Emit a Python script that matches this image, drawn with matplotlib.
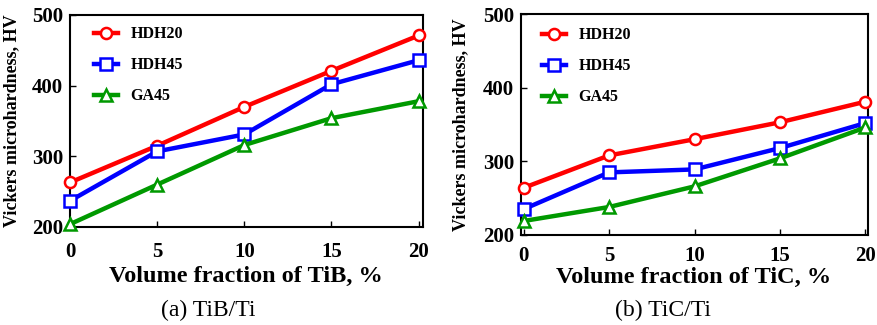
import matplotlib
matplotlib.use('Agg')
import matplotlib.pyplot as plt

plt.rcParams['font.family'] = ['Liberation Serif', 'DejaVu Serif']

vol = [0, 5, 10, 15, 20]
labels = ['HDH20', 'HDH45', 'GA45']

# TiB/Ti
tib_hdh20 = [263, 315, 370, 421, 471]
tib_hdh45 = [237, 307, 331, 402, 436]
tib_ga45 = [204, 260, 316, 354, 378]

# TiC/Ti
tic_hdh20 = [264, 308, 330, 353, 381]
tic_hdh45 = [235, 285, 289, 318, 352]
tic_ga45 = [219, 238, 266, 304, 346]

colors = ['#ff0000', '#0000ff', '#009900']
markers = ['o', 's', '^']

fig = plt.figure(figsize=(8.77, 3.25), dpi=100)
W, H = 877, 325


def fx(px):
    return px / W


def fy(py):
    return 1 - py / H


def panel(rect, series, xname, xlim, ylab_x, xlab_xy, xpad, leg_xy):
    l, t, r, b = rect
    ax = fig.add_axes([fx(l), fy(b), (r - l) / W, (b - t) / H])
    for ys, c, m, lab in zip(series, colors, markers, labels):
        ax.plot(vol, ys, color=c, lw=3.2, marker=m, ms=8, mfc='white',
                mec=c, mew=1.8, clip_on=False, label=lab, zorder=3)
    ax.set_xlim(*xlim)
    ax.set_ylim(200, 500)
    ax.set_xticks(vol)
    ax.set_yticks([200, 300, 400, 500])
    ax.tick_params(direction='in', length=4, width=1, labelsize=15)
    ax.tick_params(axis='x', pad=xpad)
    ax.tick_params(axis='y', pad=5)
    for lb in ax.get_xticklabels() + ax.get_yticklabels():
        lb.set_fontweight('bold')
    for sp in ax.spines.values():
        sp.set_linewidth(1.5)
    ax.set_ylabel('Vickers microhardness, HV', fontsize=13, fontweight='bold')
    ax.yaxis.set_label_coords(fx(ylab_x), fy((t + b) / 2), transform=fig.transFigure)
    ax.yaxis.label.set_va('center')
    ax.set_xlabel('Volume fraction of ' + xname + ', %', fontsize=17.5,
                  fontweight='bold')
    ax.xaxis.set_label_coords(fx(xlab_xy[0]), fy(xlab_xy[1]), transform=fig.transFigure)
    ax.xaxis.label.set_va('center')
    leg = ax.legend(loc='upper left', frameon=False, fontsize=11.5,
                    handlelength=1.5, handletextpad=0.75, labelspacing=0.93,
                    borderaxespad=0.0,
                    bbox_to_anchor=(fx(leg_xy[0]), fy(leg_xy[1])),
                    bbox_transform=fig.transFigure)
    for txt in leg.get_texts():
        txt.set_fontweight('bold')
    return ax


panel((70, 15, 423, 227), [tib_hdh20, tib_hdh45, tib_ga45], 'TiB',
      (0, 20.25), 12, (246, 276), 11, (88, 20))
panel((521, 14, 868, 235), [tic_hdh20, tic_hdh45, tic_ga45], 'TiC',
      (-0.15, 20.15), 461, (694, 277), 8, (536, 21))

fig.text(fx(208), fy(310), '(a) TiB/Ti', fontsize=17, ha='center', va='center')
fig.text(fx(663), fy(310), '(b) TiC/Ti', fontsize=17, ha='center', va='center')

fig.savefig('out.png', dpi=100)
